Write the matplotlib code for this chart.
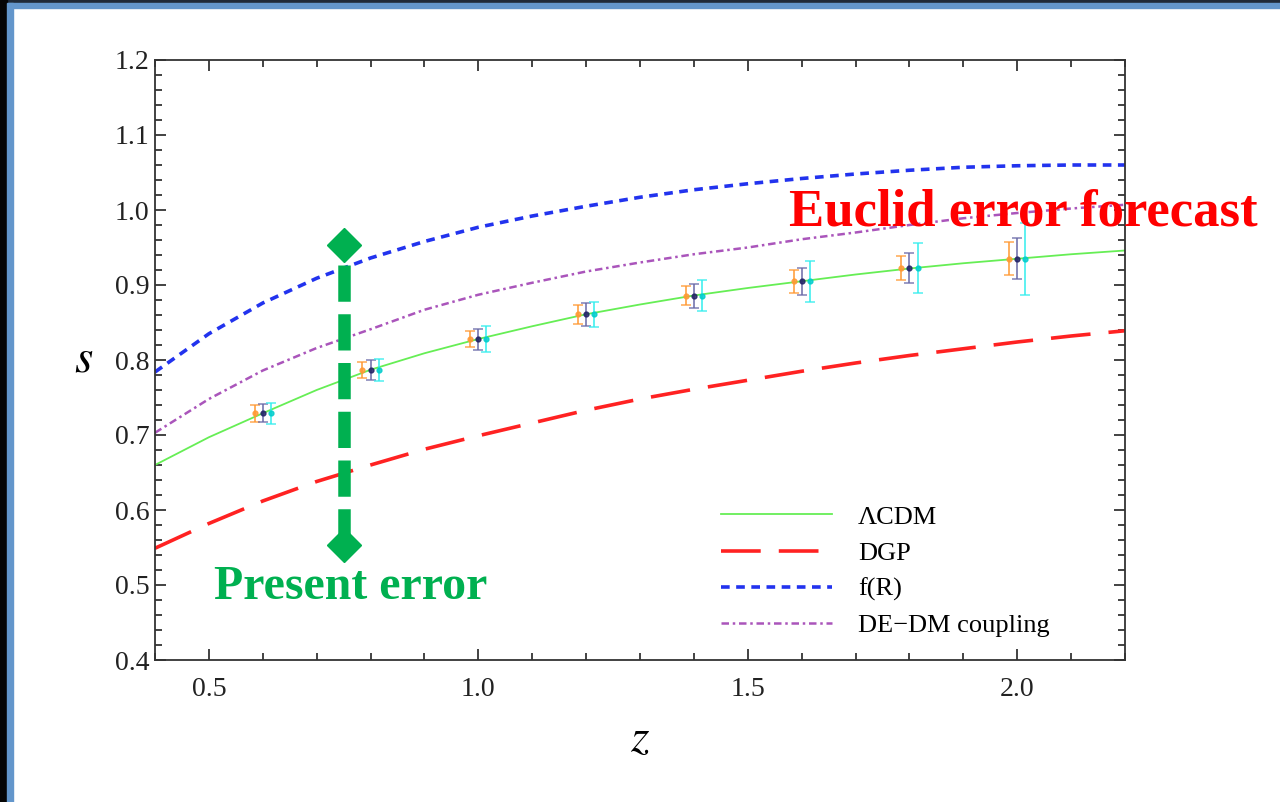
import numpy as np
import matplotlib
matplotlib.use("Agg")
import matplotlib.pyplot as plt
from matplotlib.patches import Rectangle
from matplotlib.ticker import MultipleLocator, FormatStrFormatter

# Growth index s(z) for several gravity / dark-energy models
z_curve = [0.4, 0.5, 0.6, 0.7, 0.8, 0.9, 1.0, 1.1, 1.2, 1.3, 1.4, 1.5,
           1.6, 1.7, 1.8, 1.9, 2.0, 2.1, 2.2]
s_lcdm = [0.660, 0.697, 0.729, 0.760, 0.787, 0.809, 0.828, 0.845, 0.861, 0.874,
          0.886, 0.896, 0.905, 0.914, 0.922, 0.929, 0.935, 0.941, 0.946]
s_dgp = [0.549, 0.582, 0.612, 0.638, 0.660, 0.681, 0.699, 0.716, 0.733, 0.748,
         0.761, 0.773, 0.785, 0.796, 0.806, 0.815, 0.824, 0.832, 0.839]
s_fr = [0.784, 0.835, 0.876, 0.909, 0.936, 0.958, 0.977, 0.992, 1.005, 1.017,
        1.027, 1.035, 1.042, 1.048, 1.053, 1.057, 1.059, 1.060, 1.060]
s_dedm = [0.703, 0.748, 0.786, 0.816, 0.841, 0.867, 0.887, 0.903, 0.918, 0.930,
          0.941, 0.950, 0.961, 0.970, 0.980, 0.989, 0.996, 1.002, 1.007]

# Forecast data points (three survey configurations per redshift bin)
z_bins = [0.6, 0.8, 1.0, 1.2, 1.4, 1.6, 1.8, 2.0]
s_bins = [0.729, 0.787, 0.828, 0.861, 0.886, 0.905, 0.923, 0.935]
err_a = [0.011, 0.011, 0.011, 0.013, 0.013, 0.015, 0.016, 0.022]
err_b = [0.012, 0.013, 0.014, 0.015, 0.016, 0.018, 0.020, 0.027]
err_c = [0.014, 0.015, 0.017, 0.017, 0.021, 0.027, 0.033, 0.048]
z_offsets = [-0.015, 0.0, 0.015]

# Present-day constraint shown as a vertical bar
present_z = 0.75
present_s = [0.553, 0.953]

legend_labels = ["\u039bCDM", "DGP", "f(R)", "DE\u2212DM coupling"]

serif = ["Liberation Serif", "DejaVu Serif"]
plt.rcParams["font.family"] = serif
plt.rcParams["mathtext.fontset"] = "stix"

fig = plt.figure(figsize=(12.8, 8.02), dpi=100)
fig.patch.set_facecolor("white")

# slide frame
fig.add_artist(Rectangle((0, 1 - 3 / 802), 1, 3 / 802, transform=fig.transFigure,
                         color="#1f2a38", zorder=0))
fig.add_artist(Rectangle((0, 1 - 8 / 802), 1, 5 / 802, transform=fig.transFigure,
                         color="#6396CB", zorder=0))
fig.add_artist(Rectangle((0, 0), 7 / 1280, 1, transform=fig.transFigure,
                         color="#050505", zorder=0))
fig.add_artist(Rectangle((7 / 1280, 0), 6 / 1280, 1 - 3 / 802, transform=fig.transFigure,
                         color="#6396CB", zorder=0))

ax = fig.add_axes([155 / 1280, 142 / 802, 970 / 1280, 600 / 802])

ax.plot(z_curve, s_lcdm, color="#66ee55", lw=1.3, label=legend_labels[0])
ax.plot(z_curve, s_dgp, color="#ff2222", lw=2.6, dashes=(11, 5), label=legend_labels[1])
ax.plot(z_curve, s_fr, color="#2233ee", lw=2.6, dashes=(2.4, 1.8), label=legend_labels[2])
ax.plot(z_curve, s_dedm, color="#aa55bb", lw=1.8, dashes=(3, 1.5, 1, 1.5),
        label=legend_labels[3])

colors = [("#ff9933", "#ff9933"), ("#6a6aa8", "#222266"), ("#33eeee", "#00cccc")]
for off, err, (ecol, mcol) in zip(z_offsets, [err_a, err_b, err_c], colors):
    zz = [z + off for z in z_bins]
    ax.errorbar(zz, s_bins, yerr=err, fmt="o", ms=3.5, color=mcol, ecolor=ecol,
                elinewidth=1.3, capsize=3.5, capthick=1.1, alpha=0.85, zorder=3)

# present error bar
ax.plot([present_z, present_z], present_s, color="#00b050", lw=9,
        dashes=(2.9, 1.0), solid_capstyle="butt", zorder=4)
ax.plot([present_z, present_z], present_s, linestyle="none", marker="D", ms=17,
        color="#00b050", zorder=5)

ax.set_xlim(0.4, 2.2)
ax.set_ylim(0.4, 1.2)
ax.xaxis.set_major_locator(MultipleLocator(0.5))
ax.xaxis.set_minor_locator(MultipleLocator(0.1))
ax.yaxis.set_major_locator(MultipleLocator(0.1))
ax.yaxis.set_minor_locator(MultipleLocator(0.02))
ax.tick_params(which="both", direction="in", top=True, right=True, labelsize=20,
               width=1.2, colors="#222222")
ax.tick_params(which="major", length=8)
ax.tick_params(which="minor", length=5)
ax.tick_params(axis="x", pad=12)
ax.tick_params(axis="y", pad=4)
ax.xaxis.set_major_formatter(FormatStrFormatter("%.1f"))
ax.yaxis.set_major_formatter(FormatStrFormatter("%.1f"))
for sp in ax.spines.values():
    sp.set_linewidth(1.3)
    sp.set_color("#333333")

ax.set_xlabel("$z$", fontsize=34, labelpad=12)
ax.set_ylabel("$s$", fontsize=34, rotation=0, labelpad=22, va="center")

leg = ax.legend(loc="lower right", bbox_to_anchor=(0.947, -0.002), frameon=False,
                fontsize=19, handlelength=4.2, handletextpad=1.0, labelspacing=0.48)

fig.text(1258 / 1280, 1 - 212 / 802, "Euclid error forecast", color="#ff0000",
         fontsize=38, fontweight="bold", ha="right", va="center", family=serif)
fig.text(351 / 1280, 1 - 587 / 802, "Present error", color="#00b050",
         fontsize=34.5, fontweight="bold", ha="center", va="center", family=serif)

fig.savefig("out.png", dpi=100)
